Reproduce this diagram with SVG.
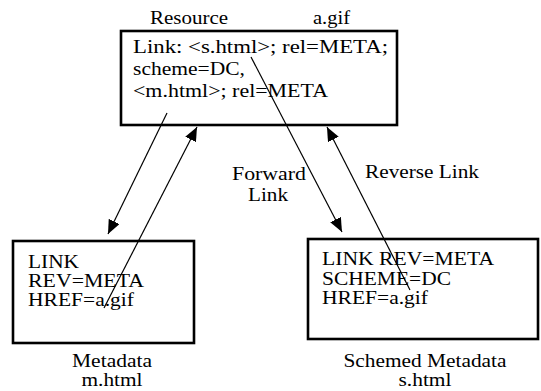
<svg xmlns="http://www.w3.org/2000/svg" width="541" height="391" viewBox="0 0 541 391">
<style>
text{font-family:"Liberation Serif","Times New Roman",serif;font-size:19px;fill:#000}
.box{fill:#fff;stroke:#000;stroke-width:2.6}
.ln{stroke:#000;stroke-width:1.2;fill:none}
</style>
<defs>
<marker id="ah" markerUnits="userSpaceOnUse" markerWidth="16" markerHeight="12" refX="14" refY="6" orient="auto">
<path d="M0,0 L14,6 L0,12 Z" fill="#000"/>
</marker>
</defs>
<rect width="541" height="391" fill="#fff"/>
<g id="resource">
<rect class="box" x="121" y="31" width="276" height="94"/>
<text x="150" y="24" textLength="78" lengthAdjust="spacingAndGlyphs">Resource</text>
<text x="313" y="24" textLength="37" lengthAdjust="spacingAndGlyphs">a.gif</text>
<text x="133" y="53" textLength="255" lengthAdjust="spacingAndGlyphs">Link: &lt;s.html&gt;; rel=META;</text>
<text x="133" y="75" textLength="112" lengthAdjust="spacingAndGlyphs">scheme=DC,</text>
<text x="133" y="97" textLength="195" lengthAdjust="spacingAndGlyphs">&lt;m.html&gt;; rel=META</text>
</g>
<g id="metadata">
<rect class="box" x="13" y="241" width="181" height="102"/>
<text x="28" y="268" textLength="51" lengthAdjust="spacingAndGlyphs">LINK</text>
<text x="28" y="287" textLength="116" lengthAdjust="spacingAndGlyphs">REV=META</text>
<text x="28" y="306" textLength="106" lengthAdjust="spacingAndGlyphs">HREF=a.gif</text>
<text x="112" y="367" text-anchor="middle" textLength="80" lengthAdjust="spacingAndGlyphs">Metadata</text>
<text x="112" y="386" text-anchor="middle" textLength="61" lengthAdjust="spacingAndGlyphs">m.html</text>
</g>
<g id="schemed">
<rect class="box" x="308" y="239" width="230" height="100"/>
<text x="322" y="265" textLength="172" lengthAdjust="spacingAndGlyphs">LINK REV=META</text>
<text x="322" y="285" textLength="129" lengthAdjust="spacingAndGlyphs">SCHEME=DC</text>
<text x="322" y="304" textLength="106" lengthAdjust="spacingAndGlyphs">HREF=a.gif</text>
<text x="425" y="367" text-anchor="middle" textLength="163" lengthAdjust="spacingAndGlyphs">Schemed Metadata</text>
<text x="425" y="386" text-anchor="middle" textLength="53" lengthAdjust="spacingAndGlyphs">s.html</text>
</g>
<g id="labels">
<text x="269" y="180" text-anchor="middle" textLength="74" lengthAdjust="spacingAndGlyphs">Forward</text>
<text x="268" y="201" text-anchor="middle" textLength="40" lengthAdjust="spacingAndGlyphs">Link</text>
<text x="365" y="178" textLength="114" lengthAdjust="spacingAndGlyphs">Reverse Link</text>
</g>
<g id="connectors">
<line class="ln" x1="167" y1="113" x2="108" y2="234" marker-end="url(#ah)"/>
<line class="ln" x1="104" y1="308" x2="197" y2="127" marker-end="url(#ah)"/>
<line class="ln" x1="251" y1="57" x2="342" y2="232" marker-end="url(#ah)"/>
<line class="ln" x1="410" y1="290" x2="327" y2="127" marker-end="url(#ah)"/>
</g>
</svg>
